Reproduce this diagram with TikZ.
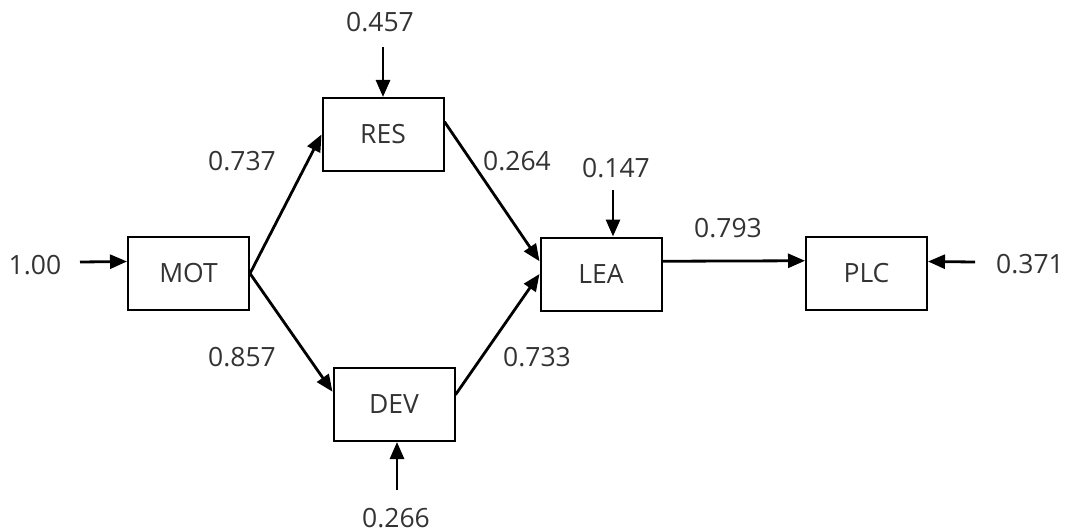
\documentclass[tikz,border=0pt]{standalone}
\usepackage{fontspec}
\setmainfont{Open Sans}
\usetikzlibrary{arrows.meta,calc}
\begin{document}
\begin{tikzpicture}[x=1pt,y=-1pt,
  box/.style={draw=black,line width=2pt,minimum width=121pt,minimum height=73pt,inner sep=0pt,font=\fontsize{26.5}{30}\selectfont,text=black!80},
  lbl/.style={inner sep=0pt,font=\fontsize{26.5}{30}\selectfont,text=black!80},
  arr/.style={line width=2.8pt,-{Triangle[length=17pt,width=14pt]}}]
\useasboundingbox (0,0) rectangle (1070,532);
\node[box] (MOT) at (188.5,273.5) {MOT};
\node[box] (RES) at (383,134.5) {RES};
\node[box] (DEV) at (394,404.5) {DEV};
\node[box] (LEA) at (601,274) {LEA};
\node[box] (PLC) at (866.5,273.5) {PLC};
% labels
\node[lbl] (l100) at (35,265) {1.00};
\node[lbl] (l371) at (1030,264) {0.371};
\node[lbl] (l457) at (380,22) {0.457};
\node[lbl] (l147) at (616,168) {0.147};
\node[lbl] (l266) at (396,518) {0.266};
\node[lbl] (l737) at (242,161) {0.737};
\node[lbl] (l857) at (242,357) {0.857};
\node[lbl] (l264) at (517,161) {0.264};
\node[lbl] (l733) at (537,357) {0.733};
\node[lbl] (l793) at (728,228) {0.793};
% free ends
\coordinate (s100) at (80,262);
\coordinate (s371) at (975,262);
\coordinate (s457) at (383,47);
\coordinate (s147) at (613,190);
\coordinate (s266) at (397,490);
% arrows
\draw[arr] (s100) -- ($(MOT.north west)!0.34!(MOT.south west)$);
\draw[arr] (s371) -- ($(PLC.north east)!0.34!(PLC.south east)$);
\draw[arr] (s457) -- (RES.north);
\draw[arr] (s147) -- (s147 |- LEA.north);
\draw[arr] (s266) -- (s266 |- DEV.south);
\draw[arr] (MOT.east) -- (RES.west);
\draw[arr] (MOT.east) -- ($(DEV.north west)!0.33!(DEV.south west)$);
\draw[arr] ($(RES.north east)!0.33!(RES.south east)$) -- ($(LEA.north west)!0.33!(LEA.south west)$);
\draw[arr] ($(DEV.north east)!0.37!(DEV.south east)$) -- ($(LEA.north west)!0.5!(LEA.south west)$);
\draw[arr] ($(LEA.north east)!0.33!(LEA.south east)$) -- ($(PLC.north west)!0.33!(PLC.south west)$);
\end{tikzpicture}
\end{document}
